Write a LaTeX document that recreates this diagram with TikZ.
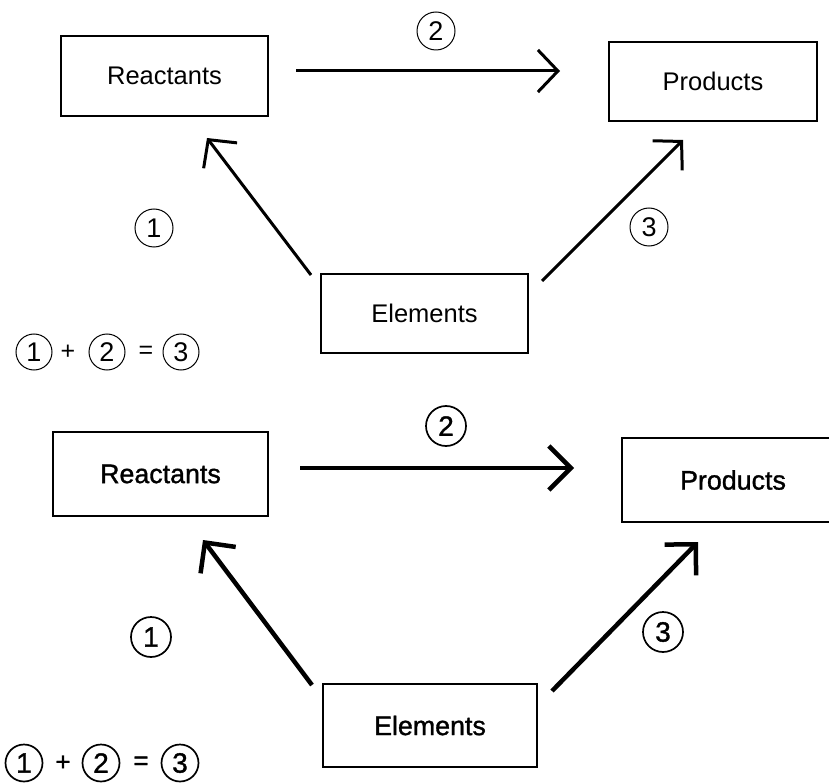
\documentclass[tikz,border=0pt]{standalone}
\usepackage{fontspec}
\setmainfont{Liberation Sans}
\newfontfamily\boldishfont[FakeBold=1.2]{Liberation Sans}
\usetikzlibrary{arrows.meta}
\begin{document}
\begin{tikzpicture}[x=1pt,y=-1pt,
  boxA/.style={draw, rectangle, line width=1.4pt, inner sep=0pt, font=\fontsize{25.5}{30}\selectfont},
  boxB/.style={draw, rectangle, line width=2.6pt, inner sep=0pt, font=\boldishfont\fontsize{26.8}{32}\selectfont},
  arrA/.style={line width=3pt, -{Straight Barb[length=20pt,width=42pt,sharp]}},
  arrB/.style={line width=4.5pt, -{Straight Barb[length=22pt,width=44pt,sharp]}},
  numA/.style={circle, draw, line width=1pt, minimum size=38pt, inner sep=0pt, font=\fontsize{27}{30}\selectfont},
  numB/.style={circle, draw, line width=1.7pt, minimum size=40pt, inner sep=0pt, font=\boldishfont\fontsize{28}{32}\selectfont},
  symA/.style={inner sep=0pt, font=\fontsize{25}{30}\selectfont},
  symB/.style={inner sep=0pt, font=\boldishfont\fontsize{26}{30}\selectfont}
]
\useasboundingbox (0,0) rectangle (829,783);
\clip (0,0) rectangle (829,783);

% ---------- top diagram ----------
\node[boxA, minimum width=207pt, minimum height=80pt] (R1) at (164.5,76) {Reactants};
\node[boxA, minimum width=208pt, minimum height=79pt] (P1) at (713,81.5) {Products};
\node[boxA, minimum width=207pt, minimum height=79pt] (E1) at (424.5,313.5) {Elements};

\coordinate (a2s) at (296,71);  \coordinate (a2e) at (560,71);
\coordinate (a1s) at (311,275); \coordinate (a1e) at (207,138);
\coordinate (a3s) at (542,281); \coordinate (a3e) at (683,140);
\draw[arrA] (a2s) -- (a2e);
\draw[arrA] (a1s) -- (a1e);
\draw[arrA] (a3s) -- (a3e);

\node[numA] (t2) at (436,31) {2};
\node[numA] (t1) at (154,228) {1};
\node[numA] (t3) at (649,227) {3};

\node[numA, minimum size=36pt] (q1) at (34,352) {1};
\node[symA] (qp) at (68,352) {+};
\node[numA, minimum size=36pt] (q2) at (107,352) {2};
\node[symA] (qe) at (146,352) {=};
\node[numA, minimum size=36pt] (q3) at (181,352) {3};

% ---------- bottom diagram ----------
\node[boxB, minimum width=215pt, minimum height=84pt] (R2) at (160.5,474) {Reactants};
\node[boxB, minimum width=222pt, minimum height=84pt] (P2) at (733,480) {Products};
\node[boxB, minimum width=214pt, minimum height=83pt] (E2) at (430,725.5) {Elements};

\coordinate (b2s) at (300,468); \coordinate (b2e) at (574,468);
\coordinate (b1s) at (312,685); \coordinate (b1e) at (203,540);
\coordinate (b3s) at (552,691); \coordinate (b3e) at (698,542);
\draw[arrB] (b2s) -- (b2e);
\draw[arrB] (b1s) -- (b1e);
\draw[arrB] (b3s) -- (b3e);

\node[numB] (u2) at (446,426) {2};
\node[numB] (u1) at (151,637) {1};
\node[numB] (u3) at (663,632) {3};

\node[numB, minimum size=37pt] (w1) at (24,763) {1};
\node[symB] (wp) at (63,763) {+};
\node[numB, minimum size=37pt] (w2) at (101,763) {2};
\node[symB] (we) at (141,763) {=};
\node[numB, minimum size=37pt] (w3) at (180,763) {3};
\end{tikzpicture}
\end{document}
